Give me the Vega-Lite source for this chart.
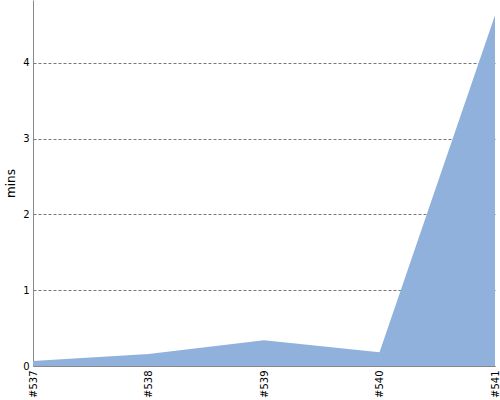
{
  "$schema": "https://vega.github.io/schema/vega-lite/v6.json",
  "autosize": "none",
  "width": 462,
  "height": 366,
  "padding": {"left": 33, "top": 0, "right": 5, "bottom": 34},
  "background": "white",
  "config": {"view": {"stroke": null}, "font": "DejaVu Sans"},
  "data": {"values": [
    {"build": "#537", "mins": 0.066},
    {"build": "#538", "mins": 0.16},
    {"build": "#539", "mins": 0.34},
    {"build": "#540", "mins": 0.18},
    {"build": "#541", "mins": 4.63}
  ]},
  "mark": {"type": "area", "color": "#8fb1db", "opacity": 1},
  "encoding": {
    "x": {"field": "build", "type": "ordinal", "scale": {"type": "point", "padding": 0},
      "axis": {"title": null, "labelAngle": -90, "labelAlign": "right", "labelBaseline": "middle", "ticks": false, "domainColor": "#888", "labelColor": "black", "labelFontSize": 10, "labelPadding": 4, "grid": false}},
    "y": {"field": "mins", "type": "quantitative", "scale": {"domain": [0, 4.83], "nice": false},
      "axis": {"title": "mins", "titleFontWeight": "normal", "titleFontSize": 12, "titleColor": "black", "titlePadding": 5, "values": [0,1,2,3,4], "ticks": false, "domainColor": "#888", "labelColor": "black", "labelFontSize": 10, "labelPadding": 4, "gridColor": "#777", "gridDash": [3,2], "gridOpacity": 1}}
  }
}
